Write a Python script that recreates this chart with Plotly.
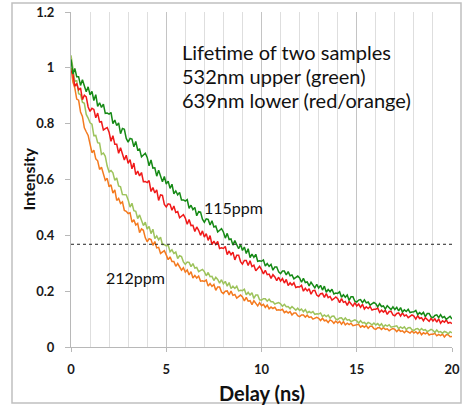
import plotly.graph_objects as go

# Delay axis (ns), sampled every 0.1 ns
delay_ns = [round(i * 0.1, 1) for i in range(201)]

# 532nm, 115ppm (dark green, upper)
green_115 = [
    1.030, 0.978, 0.998, 0.968, 0.968, 0.937, 0.957, 0.939, 0.914, 0.932,
    0.903, 0.916, 0.883, 0.904, 0.862, 0.875, 0.858, 0.870, 0.837, 0.838,
    0.834, 0.840, 0.800, 0.813, 0.793, 0.803, 0.764, 0.783, 0.780, 0.747,
    0.734, 0.747, 0.745, 0.717, 0.736, 0.706, 0.709, 0.681, 0.688, 0.694,
    0.679, 0.649, 0.670, 0.641, 0.642, 0.612, 0.633, 0.616, 0.592, 0.611,
    0.584, 0.594, 0.568, 0.583, 0.549, 0.559, 0.545, 0.554, 0.527, 0.527,
    0.523, 0.528, 0.497, 0.508, 0.492, 0.500, 0.470, 0.485, 0.483, 0.458,
    0.447, 0.459, 0.457, 0.437, 0.452, 0.430, 0.433, 0.412, 0.417, 0.424,
    0.412, 0.390, 0.407, 0.385, 0.387, 0.365, 0.381, 0.369, 0.352, 0.367,
    0.346, 0.358, 0.335, 0.352, 0.320, 0.333, 0.321, 0.332, 0.307, 0.309,
    0.307, 0.312, 0.290, 0.299, 0.289, 0.296, 0.275, 0.287, 0.287, 0.269,
    0.263, 0.272, 0.272, 0.258, 0.270, 0.255, 0.258, 0.244, 0.249, 0.254,
    0.247, 0.232, 0.246, 0.231, 0.233, 0.219, 0.232, 0.224, 0.212, 0.224,
    0.211, 0.221, 0.204, 0.218, 0.196, 0.206, 0.198, 0.207, 0.190, 0.193,
    0.192, 0.198, 0.178, 0.187, 0.178, 0.186, 0.167, 0.180, 0.180, 0.164,
    0.161, 0.168, 0.170, 0.159, 0.169, 0.158, 0.161, 0.150, 0.155, 0.160,
    0.155, 0.144, 0.155, 0.145, 0.147, 0.136, 0.148, 0.142, 0.134, 0.144,
    0.134, 0.142, 0.129, 0.141, 0.125, 0.133, 0.127, 0.135, 0.123, 0.125,
    0.126, 0.131, 0.116, 0.123, 0.117, 0.124, 0.109, 0.120, 0.120, 0.108,
    0.105, 0.113, 0.115, 0.105, 0.116, 0.105, 0.109, 0.099, 0.105, 0.110,
    0.100,
]

# 639nm, 115ppm (red, upper)
red_115 = [
    0.990, 0.977, 0.934, 0.944, 0.921, 0.928, 0.886, 0.902, 0.896, 0.860,
    0.844, 0.855, 0.851, 0.821, 0.838, 0.806, 0.807, 0.777, 0.782, 0.786,
    0.769, 0.737, 0.757, 0.726, 0.726, 0.694, 0.714, 0.695, 0.670, 0.687,
    0.658, 0.671, 0.638, 0.659, 0.617, 0.630, 0.613, 0.625, 0.592, 0.593,
    0.589, 0.596, 0.557, 0.571, 0.552, 0.563, 0.525, 0.545, 0.543, 0.511,
    0.502, 0.513, 0.511, 0.490, 0.505, 0.482, 0.485, 0.463, 0.468, 0.474,
    0.462, 0.440, 0.457, 0.435, 0.436, 0.414, 0.430, 0.418, 0.400, 0.416,
    0.394, 0.406, 0.382, 0.399, 0.367, 0.379, 0.367, 0.378, 0.353, 0.355,
    0.353, 0.360, 0.331, 0.344, 0.330, 0.340, 0.312, 0.329, 0.329, 0.306,
    0.297, 0.310, 0.310, 0.292, 0.309, 0.288, 0.293, 0.273, 0.281, 0.289,
    0.277, 0.262, 0.275, 0.259, 0.261, 0.246, 0.259, 0.251, 0.238, 0.250,
    0.236, 0.245, 0.229, 0.242, 0.220, 0.230, 0.222, 0.230, 0.213, 0.216,
    0.215, 0.221, 0.200, 0.210, 0.201, 0.209, 0.189, 0.202, 0.203, 0.186,
    0.181, 0.191, 0.192, 0.178, 0.191, 0.177, 0.181, 0.168, 0.173, 0.179,
    0.173, 0.159, 0.173, 0.160, 0.163, 0.149, 0.163, 0.156, 0.146, 0.159,
    0.147, 0.154, 0.142, 0.153, 0.136, 0.144, 0.138, 0.145, 0.132, 0.135,
    0.135, 0.140, 0.124, 0.132, 0.125, 0.132, 0.117, 0.127, 0.128, 0.115,
    0.112, 0.120, 0.122, 0.111, 0.122, 0.111, 0.115, 0.105, 0.110, 0.115,
    0.111, 0.100, 0.112, 0.102, 0.105, 0.094, 0.105, 0.100, 0.092, 0.103,
    0.093, 0.101, 0.089, 0.101, 0.085, 0.094, 0.089, 0.097, 0.085, 0.088,
    0.084,
]

# 532nm, 212ppm (light green, lower)
lightgreen_212 = [
    1.045, 0.991, 0.952, 0.954, 0.907, 0.904, 0.877, 0.873, 0.833, 0.820,
    0.803, 0.798, 0.757, 0.758, 0.732, 0.730, 0.690, 0.695, 0.683, 0.648,
    0.627, 0.632, 0.624, 0.597, 0.606, 0.577, 0.574, 0.546, 0.545, 0.545,
    0.527, 0.501, 0.515, 0.488, 0.486, 0.460, 0.473, 0.457, 0.435, 0.447,
    0.422, 0.432, 0.406, 0.422, 0.388, 0.398, 0.384, 0.393, 0.367, 0.367,
    0.362, 0.365, 0.341, 0.348, 0.335, 0.340, 0.317, 0.327, 0.324, 0.305,
    0.296, 0.304, 0.303, 0.288, 0.299, 0.283, 0.285, 0.270, 0.274, 0.278,
    0.270, 0.255, 0.267, 0.252, 0.253, 0.238, 0.250, 0.242, 0.229, 0.241,
    0.226, 0.235, 0.218, 0.231, 0.209, 0.218, 0.210, 0.218, 0.201, 0.203,
    0.202, 0.207, 0.187, 0.196, 0.186, 0.194, 0.174, 0.186, 0.186, 0.169,
    0.168, 0.173, 0.173, 0.164, 0.171, 0.162, 0.162, 0.154, 0.157, 0.159,
    0.155, 0.146, 0.153, 0.144, 0.145, 0.137, 0.145, 0.140, 0.132, 0.139,
    0.131, 0.136, 0.126, 0.134, 0.122, 0.127, 0.122, 0.127, 0.117, 0.119,
    0.118, 0.122, 0.109, 0.115, 0.109, 0.114, 0.103, 0.110, 0.111, 0.100,
    0.098, 0.104, 0.105, 0.096, 0.104, 0.096, 0.098, 0.091, 0.094, 0.097,
    0.094, 0.086, 0.094, 0.086, 0.088, 0.081, 0.088, 0.085, 0.079, 0.086,
    0.079, 0.084, 0.076, 0.083, 0.072, 0.079, 0.075, 0.080, 0.071, 0.073,
    0.073, 0.076, 0.066, 0.072, 0.067, 0.072, 0.062, 0.069, 0.070, 0.062,
    0.059, 0.065, 0.066, 0.059, 0.066, 0.060, 0.062, 0.055, 0.059, 0.063,
    0.060, 0.052, 0.061, 0.053, 0.055, 0.049, 0.056, 0.053, 0.047, 0.055,
    0.051,
]

# 639nm, 212ppm (orange, lower)
orange_212 = [
    1.000, 0.949, 0.928, 0.888, 0.884, 0.842, 0.826, 0.785, 0.771, 0.758,
    0.727, 0.696, 0.705, 0.674, 0.667, 0.636, 0.644, 0.623, 0.597, 0.604,
    0.574, 0.581, 0.551, 0.563, 0.525, 0.532, 0.514, 0.520, 0.489, 0.486,
    0.478, 0.481, 0.447, 0.456, 0.437, 0.443, 0.410, 0.423, 0.418, 0.391,
    0.377, 0.388, 0.385, 0.364, 0.378, 0.355, 0.357, 0.335, 0.339, 0.345,
    0.330, 0.313, 0.323, 0.306, 0.306, 0.289, 0.299, 0.289, 0.275, 0.284,
    0.268, 0.276, 0.258, 0.270, 0.247, 0.256, 0.247, 0.254, 0.236, 0.237,
    0.235, 0.240, 0.218, 0.227, 0.217, 0.224, 0.203, 0.215, 0.215, 0.197,
    0.191, 0.200, 0.201, 0.187, 0.200, 0.185, 0.188, 0.175, 0.180, 0.186,
    0.179, 0.165, 0.178, 0.164, 0.166, 0.152, 0.166, 0.158, 0.147, 0.159,
    0.148, 0.153, 0.142, 0.150, 0.137, 0.143, 0.138, 0.142, 0.132, 0.133,
    0.132, 0.135, 0.123, 0.128, 0.122, 0.127, 0.115, 0.122, 0.122, 0.112,
    0.109, 0.115, 0.115, 0.107, 0.114, 0.106, 0.108, 0.100, 0.104, 0.106,
    0.103, 0.095, 0.103, 0.094, 0.096, 0.088, 0.097, 0.093, 0.085, 0.093,
    0.086, 0.092, 0.082, 0.091, 0.079, 0.085, 0.080, 0.085, 0.076, 0.078,
    0.078, 0.081, 0.071, 0.076, 0.071, 0.077, 0.067, 0.074, 0.074, 0.066,
    0.063, 0.069, 0.069, 0.063, 0.070, 0.063, 0.065, 0.058, 0.063, 0.066,
    0.063, 0.055, 0.063, 0.056, 0.058, 0.051, 0.058, 0.055, 0.050, 0.057,
    0.050, 0.055, 0.048, 0.055, 0.044, 0.051, 0.047, 0.052, 0.043, 0.046,
    0.046, 0.049, 0.040, 0.045, 0.041, 0.046, 0.036, 0.044, 0.044, 0.037,
    0.038,
]

one_over_e = 0.368
x_ticks = [0, 5, 10, 15, 20]
y_ticks = [0, 0.2, 0.4, 0.6, 0.8, 1.0, 1.2]
y_tick_labels = ["0", "0.2", "0.4", "0.6", "0.8", "1", "1.2"]
note_lines = ["Lifetime of two samples", "532nm upper (green)", "639nm lower (red/orange)"]

FONT = "Lato"

fig = go.Figure()
series = [
    (orange_212, "#f47a1f", "639nm 212ppm"),
    (lightgreen_212, "#9dc35c", "532nm 212ppm"),
    (red_115, "#f01a1a", "639nm 115ppm"),
    (green_115, "#168a16", "532nm 115ppm"),
]
for vals, col, name in series:
    fig.add_trace(go.Scatter(x=delay_ns, y=vals, mode="lines", name=name,
                             line=dict(color=col, width=1.5)))

fig.add_trace(go.Scatter(x=[0, 20], y=[one_over_e, one_over_e], mode="lines",
                         line=dict(color="#222222", width=1, dash="dot"),
                         name="1/e"))

annotations = []
for i, line in enumerate(note_lines):
    annotations.append(dict(x=5.74, y=1.058 - i * 0.086, xref="x", yref="y",
                            xanchor="left", yanchor="middle", text=line,
                            showarrow=False,
                            font=dict(family=FONT, size=20, color="#111111")))
annotations += [
    dict(x=8.52, y=0.50, xref="x", yref="y", text="115ppm", showarrow=False,
         font=dict(family=FONT, size=16, color="#111111")),
    dict(x=3.4, y=0.25, xref="x", yref="y", text="212ppm", showarrow=False,
         font=dict(family=FONT, size=16, color="#111111")),
    dict(x=10, y=(347 - 393) / 335, xref="x", yref="paper", text="Delay (ns)",
         showarrow=False, yanchor="middle",
         font=dict(family=FONT, size=20, color="#111111", weight="bold")),
    dict(x=(28 - 71) / 381, y=0.6, xref="paper", yref="y", text="Intensity",
         showarrow=False, textangle=-90, xanchor="center", yanchor="middle",
         font=dict(family=FONT, size=16, color="#111111", weight="bold")),
]

fig.update_layout(
    width=463, height=405,
    margin=dict(l=71, r=11, t=12, b=58),
    paper_bgcolor="white", plot_bgcolor="white",
    showlegend=False,
    xaxis=dict(range=[0, 20], tickvals=x_ticks, showgrid=True, automargin=False,
               gridcolor="#c4c4c4", gridwidth=1,
               minor=dict(dtick=1, showgrid=True, gridcolor="#dedede", gridwidth=1),
               showline=True, linecolor="#b8b8b8", linewidth=1,
               ticks="outside", ticklen=4, tickcolor="#b8b8b8",
               ticklabelstandoff=6,
               tickfont=dict(family=FONT, size=13, color="#1a1a1a", weight="bold"),
               zeroline=False),
    yaxis=dict(range=[0, 1.2], tickvals=y_ticks, ticktext=y_tick_labels,
               automargin=False,
               showgrid=False, showline=True, linecolor="#b8b8b8", linewidth=1,
               ticks="outside", ticklen=5, tickcolor="#b8b8b8",
               ticklabelstandoff=8,
               tickfont=dict(family=FONT, size=13, color="#1a1a1a", weight="bold"),
               zeroline=False),
    shapes=[dict(type="rect", xref="paper", yref="paper",
                 x0=(12 - 71) / 381, x1=(461 - 71) / 381,
                 y0=(347 - 403) / 335, y1=(347 - 3) / 335,
                 line=dict(color="#c0c0c0", width=1.5), layer="below")],
    annotations=annotations,
)

fig.write_html("out.html")
